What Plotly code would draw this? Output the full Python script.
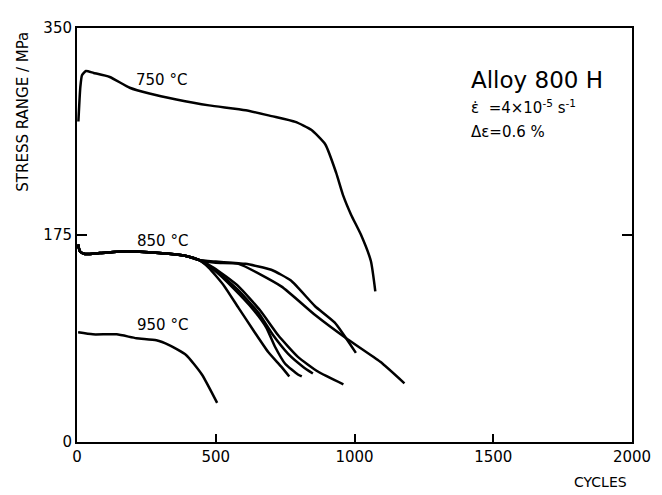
import plotly.graph_objects as go

# 750 °C
x750 = [5, 12, 18, 32, 60, 118, 190, 261, 358, 476, 608, 701, 787, 844, 895, 934, 959, 988, 1023, 1059, 1075]
y750 = [271, 300, 310, 313.6, 312, 308.6, 299.5, 294.6, 289.6, 284.6, 280.5, 275.5, 270.6, 263.9, 251.5, 227.5, 208.5, 192, 175.4, 153, 127.4]

# 950 °C
x950 = [4, 57, 143, 214, 286, 332, 393, 450, 505]
y950 = [92.7, 91, 91, 87.7, 86, 81.9, 73.6, 57.1, 33.1]

# 850 °C (several specimens), common initial part
x850_common = [4, 11, 29, 82, 179, 296, 393, 439]
y850_common = [167, 161, 158.9, 159.7, 161.3, 159.7, 157.2, 153.9]

x850_a = [475, 529, 582, 636, 689, 736, 765]
y850_a = [147.3, 132.4, 113.4, 94.3, 76.1, 63.7, 55.4]
x850_b = [493, 564, 636, 682, 714, 750, 796, 810]
y850_b = [145.6, 129.9, 111.7, 96.8, 80.3, 66.2, 57.1, 55.4]
x850_c = [493, 582, 654, 707, 761, 814, 850]
y850_c = [146.5, 128.2, 109.2, 90.2, 74.5, 63.7, 57.9]
x850_d = [493, 582, 661, 725, 796, 868, 960]
y850_d = [147.3, 131.6, 110.9, 90.2, 72, 59.6, 48.8]
x850_e = [500, 607, 700, 771, 857, 929, 1005]
y850_e = [152.5, 150.6, 145.6, 136.5, 115, 100.9, 75.3]
x850_f = [500, 582, 736, 857, 975, 1093, 1180]
y850_f = [151.5, 150.6, 131.6, 107.6, 86.9, 67.8, 49.6]

x_ticks = [0, 500, 1000, 1500, 2000]
y_ticks = [0, 175, 350]

fig = go.Figure()
line = dict(color="black", width=2.5, shape="spline", smoothing=0.5)
fig.add_trace(go.Scatter(x=x750, y=y750, mode="lines", line=line))
fig.add_trace(go.Scatter(x=x950, y=y950, mode="lines", line=line))
for xs, ys in [(x850_a, y850_a), (x850_b, y850_b), (x850_c, y850_c),
               (x850_d, y850_d), (x850_e, y850_e), (x850_f, y850_f)]:
    fig.add_trace(go.Scatter(x=x850_common + xs, y=y850_common + ys,
                             mode="lines", line=line))

font = "DejaVu Sans"
fig.update_layout(
    width=654, height=487,
    margin=dict(l=69, r=25, t=11, b=53),
    paper_bgcolor="white", plot_bgcolor="white",
    showlegend=False,
    font=dict(family=font, color="black", size=15),
)
fig.update_xaxes(range=[0, 2000], tickvals=x_ticks, ticktext=[str(v) for v in x_ticks],
                 showgrid=False, zeroline=False, showline=True, linecolor="black",
                 linewidth=2, mirror=True, ticks="inside", ticklen=8, tickwidth=2,
                 tickcolor="black", tickfont=dict(size=15, family=font))
fig.update_yaxes(range=[0, 350], tickvals=y_ticks, ticktext=[str(v) for v in y_ticks],
                 showgrid=False, zeroline=False, showline=True, linecolor="black",
                 linewidth=2, mirror="ticks", ticks="inside", ticklen=10, tickwidth=2,
                 tickcolor="black", tickfont=dict(size=15, family=font))

ann = []
ann.append(dict(x=304, y=306, xref="x", yref="y", text="750 °C", showarrow=False, font=dict(size=15)))
ann.append(dict(x=307, y=169.6, xref="x", yref="y", text="850 °C", showarrow=False, font=dict(size=15)))
ann.append(dict(x=307, y=98.5, xref="x", yref="y", text="950 °C", showarrow=False, font=dict(size=15)))
ann.append(dict(x=1414, y=306, xref="x", yref="y", text="Alloy 800 H", xanchor="left", showarrow=False, font=dict(size=23)))
ann.append(dict(x=1414, y=283, xref="x", yref="y", text="ε̇  =4×10<sup>-5</sup> s<sup>-1</sup>", xanchor="left", showarrow=False, font=dict(size=15)))
ann.append(dict(x=1414, y=262, xref="x", yref="y", text="Δε=0.6 %", xanchor="left", showarrow=False, font=dict(size=15)))
ann.append(dict(x=-0.098, y=0.797, xref="paper", yref="paper", text="STRESS RANGE / MPa", textangle=-90,
                xanchor="center", yanchor="middle", showarrow=False, font=dict(size=15)))
ann.append(dict(x=0.943, y=-0.097, xref="paper", yref="paper", text="CYCLES",
                xanchor="center", yanchor="middle", showarrow=False, font=dict(size=14)))
fig.update_layout(annotations=ann)

fig.write_html("out.html")
